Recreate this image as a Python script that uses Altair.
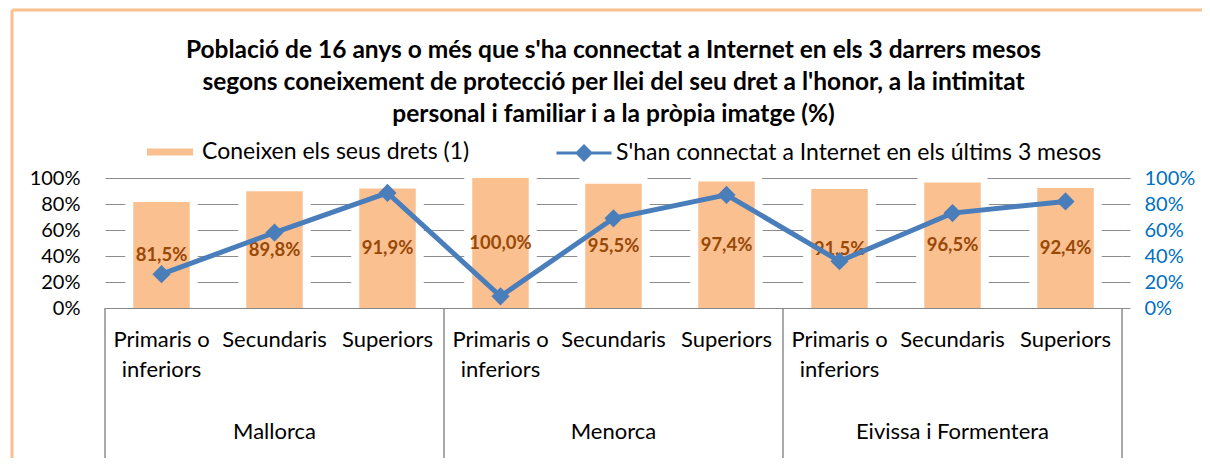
import altair as alt
import pandas as pd

islands = ["Mallorca", "Menorca", "Eivissa i Formentera"]
levels = ["Primaris o inferiors", "Secundaris", "Superiors"]
coneixen = [81.5, 89.8, 91.9, 100.0, 95.5, 97.4, 91.5, 96.5, 92.4]
connectat = [26, 58, 88.5, 9, 69, 87, 36, 73, 82]
y_ticks = [0, 20, 40, 60, 80, 100]

bar_name = "Coneixen els seus drets (1)"
line_name = "S'han connectat a Internet en els últims 3 mesos"
title_lines = [
    "Població de 16 anys o més que s'ha connectat a Internet en els 3 darrers mesos",
    "segons coneixement de protecció per llei del seu dret a l'honor, a la intimitat",
    "personal i familiar i a la pròpia imatge (%)",
]

rows = []
i = 0
for isl in islands:
    for lv in levels:
        rows.append({
            "key": f"{isl}::{lv}",
            "island": isl,
            "level": lv,
            "bar": coneixen[i],
            "mid": coneixen[i] / 2,
            "line": connectat[i],
            "label": f"{coneixen[i]:.1f}%".replace(".", ","),
            "s_bar": bar_name,
            "s_line": line_name,
            "idx": i,
        })
        i += 1
df = pd.DataFrame(rows)
order = list(df["key"])

FONT = "Lato"
W, H = 1017, 130

xenc = alt.X(
    "key:N", sort=order,
    scale=alt.Scale(paddingInner=0, paddingOuter=0),
    axis=alt.Axis(
        title=None, labelAngle=0, ticks=False, domain=True, domainColor="#888888",
        labelExpr="split(replace(split(datum.value, '::')[1], ' o ', ' o::'), '::')",
        labelFont=FONT, labelFontSize=22, labelColor="#000000", labelLineHeight=30,
        labelPadding=21, labelLimit=300, zindex=1,
    ),
)

left_axis = alt.Axis(
    title=None, values=y_ticks, labelExpr="datum.value + '%'",
    labelFont=FONT, labelFontSize=20, labelColor="#000000",
    domain=False, ticks=False, labelPadding=25,
    grid=True, gridColor="#8c8c8c", gridWidth=1,
)
yscale = alt.Scale(domain=[0, 100])

base = alt.Chart(df)

halo = base.mark_bar(width={"band": 0.5}, fill="#ffffff", stroke="#ffffff", strokeWidth=16,
                     strokeJoin="round").encode(
    x=xenc, y=alt.Y("bar:Q", scale=yscale, axis=left_axis)
)
bars = base.mark_bar(width={"band": 0.5}).encode(
    x=xenc, y=alt.Y("bar:Q", scale=yscale, axis=left_axis),
    fill=alt.Fill("s_bar:N", scale=alt.Scale(range=["#FAC090"]),
                  legend=alt.Legend(title=None, orient="none", legendX=42, legendY=-49,
                                    symbolType="M-1,-0.15H1V0.15H-1Z", symbolSize=2116,
                                    symbolStrokeWidth=0, labelFont=FONT, labelFontSize=23,
                                    labelColor="#000000", labelOffset=9, labelLimit=600)),
)
labels = base.mark_text(font=FONT, fontSize=18.5, fontWeight="bold", color="#984807",
                        baseline="middle").encode(
    x=xenc,
    y=alt.Y("mid:Q", scale=yscale, axis=left_axis),
    text="label:N",
)
left = alt.layer(halo, bars, labels)

yright = alt.Y(
    "line:Q", scale=alt.Scale(domain=[0, 100]),
    axis=alt.Axis(
        title=None, orient="right", values=y_ticks, labelExpr="datum.value + '%'",
        labelFont=FONT, labelFontSize=20, labelColor="#0070C0",
        domain=False, ticks=True, tickSize=8, tickColor="#8c8c8c", labelPadding=14,
        grid=False,
    ),
)
line = base.mark_line(strokeWidth=5).encode(
    x=xenc, y=yright,
    stroke=alt.Stroke("s_line:N", scale=alt.Scale(range=["#4A7EBB"]),
                      legend=alt.Legend(title=None, orient="none", legendX=450, legendY=-54,
                                        symbolType="M-1,0H1M0,-0.25L0.25,0L0,0.25L-0.25,0Z",
                                        symbolSize=3025, symbolStrokeWidth=3,
                                        symbolFillColor="#4A7EBB",
                                        labelFont=FONT, labelFontSize=23,
                                        labelColor="#000000", labelOffset=3, labelLimit=700)),
)
points = base.mark_point(shape="diamond", filled=True, size=330, color="#4A7EBB", opacity=1).encode(
    x=xenc, y=yright
)
right = alt.layer(line, points)

seps_left = base.transform_filter("datum.idx % 3 == 0").mark_rule(color="#8c8c8c", strokeWidth=1.5).encode(
    x=alt.X("key:N", sort=order, bandPosition=0),
    y=alt.value(H), y2=alt.value(H + 170),
)
seps_right = base.transform_filter("datum.idx == 8").mark_rule(color="#8c8c8c", strokeWidth=1.5).encode(
    x=alt.X("key:N", sort=order, bandPosition=1),
    y=alt.value(H), y2=alt.value(H + 170),
)
groups = base.transform_filter("datum.idx % 3 == 1").mark_text(
    font=FONT, fontSize=22, color="#000000", baseline="middle"
).encode(
    x=alt.X("key:N", sort=order),
    y=alt.value(H + 124),
    text="island:N",
)

frame_df = pd.DataFrame({"a": [0]})
frame_v = alt.Chart(frame_df).mark_rule(color="#FAC090", strokeWidth=3).encode(
    x=alt.value(-93), y=alt.value(-168), y2=alt.value(H + 200)
)
frame_h = alt.Chart(frame_df).mark_rule(color="#FAC090", strokeWidth=3).encode(
    x=alt.value(-93), x2=alt.value(W + 200), y=alt.value(-168)
)

chart = alt.layer(left, right, seps_left, seps_right, groups, frame_v, frame_h).resolve_scale(
    y="independent", fill="independent", stroke="independent"
).properties(
    width=W, height=H,
    autosize=alt.AutoSizeParams(type="none"),
    padding={"left": 97, "top": 170, "right": 80, "bottom": 150},
    title=alt.TitleParams(text=title_lines, font=FONT, fontSize=24.5, fontWeight="bold",
                          color="#000000", anchor="middle", lineHeight=32, offset=-116, dy=3),
).configure_view(strokeWidth=0)

chart.save("out.html", embed_options={"renderer": "svg", "actions": False})
